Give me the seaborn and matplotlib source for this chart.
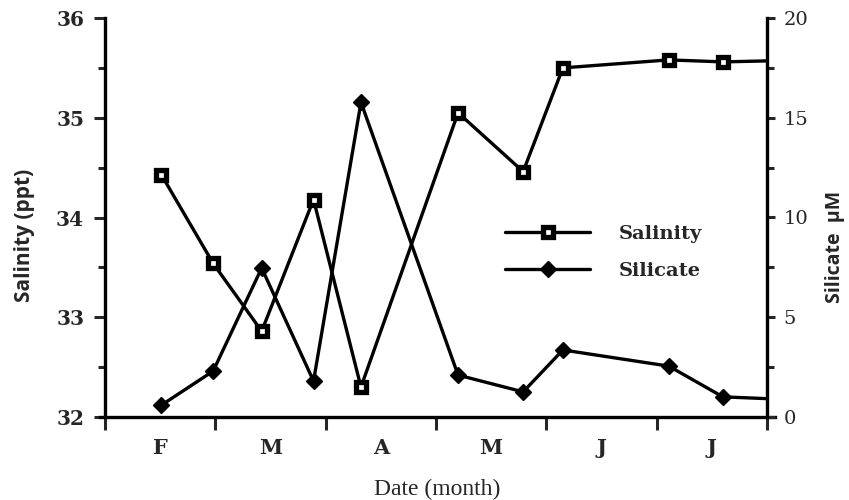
import matplotlib
matplotlib.use("Agg")
import matplotlib.pyplot as plt
import seaborn as sns
from matplotlib.lines import Line2D
from matplotlib.ticker import MultipleLocator, FixedLocator, NullFormatter, FixedFormatter

# ---- data -------------------------------------------------------------
month_labels = ["F", "M", "A", "M", "J", "J"]
# sampling dates, expressed in months elapsed since 1 February
sample_month = [0.51, 0.98, 1.42, 1.89, 2.32, 3.20, 3.79, 4.15, 5.11, 5.60, 6.00]
salinity = [34.43, 33.54, 32.86, 34.18, 32.30, 35.05, 34.46, 35.50, 35.58, 35.56, 35.57]
silicate = [0.59, 2.30, 7.47, 1.80, 15.78, 2.10, 1.26, 3.36, 2.55, 1.01, 0.92]
n_measured = 10  # the last entry only carries the line on to the axis edge

sns.set_style("ticks")
plt.rcParams["font.family"] = ["DejaVu Serif"]

fig = plt.figure(figsize=(8.49, 5.0), dpi=100)
ax = fig.add_axes([0.1172, 0.166, 0.7953, 0.798])
ax2 = ax.twinx()

lw = 2.4
sq = dict(marker="s", markersize=6.5, markerfacecolor="white",
          markeredgecolor="black", markeredgewidth=3.8)
dm = dict(marker="D", markersize=8.5, markerfacecolor="black",
          markeredgecolor="black", markeredgewidth=1)

sns.lineplot(x=sample_month, y=salinity, ax=ax, sort=False, color="black",
             linewidth=lw, markevery=list(range(n_measured)), legend=False,
             zorder=3, **sq)
sns.lineplot(x=sample_month, y=silicate, ax=ax2, sort=False, color="black",
             linewidth=lw, markevery=list(range(n_measured)), legend=False,
             zorder=3, **dm)

# ---- axes -------------------------------------------------------------
ax.set_xlim(-0.05, 6.07)
ax.set_ylim(32, 36)
ax2.set_ylim(0, 20)

ax.xaxis.set_major_locator(FixedLocator(range(7)))
ax.xaxis.set_major_formatter(NullFormatter())
ax.xaxis.set_minor_locator(FixedLocator([i + 0.5 for i in range(6)]))
ax.xaxis.set_minor_formatter(FixedFormatter(month_labels))
ax.yaxis.set_major_locator(MultipleLocator(1))
ax.yaxis.set_minor_locator(MultipleLocator(0.5))
ax2.yaxis.set_major_locator(MultipleLocator(5))
ax2.yaxis.set_minor_locator(MultipleLocator(2.5))

for a in (ax, ax2):
    a.spines["top"].set_visible(False)
    for s in a.spines.values():
        s.set_linewidth(2.4)
        s.set_color("black")
ax.spines["right"].set_visible(False)
ax2.spines["left"].set_visible(False)
ax2.spines["bottom"].set_visible(False)
ax.spines["left"].set_position(("data", 0))
ax2.spines["right"].set_position(("data", 6))

ax.tick_params(axis="x", which="major", direction="out", length=9, width=2.2)
ax.tick_params(axis="x", which="minor", length=0, pad=15, labelsize=15)
ax.tick_params(axis="y", which="major", direction="out", length=8, width=2.2,
               labelsize=14.5, pad=7)
ax.tick_params(axis="y", which="minor", direction="out", length=5, width=2.2)
ax2.tick_params(axis="y", which="major", direction="out", length=6, width=2.2,
                labelsize=14, pad=6)
ax2.tick_params(axis="y", which="minor", direction="out", length=5, width=2.2)

for t in ax.get_yticklabels() + ax.xaxis.get_minorticklabels():
    t.set_fontweight("bold")

ax.set_xlabel("Date (month)", fontsize=17, family=["Liberation Serif"])
ax.xaxis.set_label_coords(0.5, -0.155)
ax.set_ylabel("Salinity (ppt)", fontsize=15, fontweight="bold",
              family=["Open Sans", "DejaVu Sans"])
ax.yaxis.set_label_coords(-0.095, 0.456)
ax2.set_ylabel("Silicate  μM", fontsize=14, fontweight="bold",
               family=["Open Sans", "DejaVu Sans"])
ax2.yaxis.set_label_coords(1.075, 0.425)

# ---- legend -----------------------------------------------------------
handles = [
    Line2D([], [], color="black", linewidth=lw, **sq),
    Line2D([], [], color="black", linewidth=lw, **dm),
]
leg = ax2.legend(handles, ["Salinity", "Silicate"], loc="upper left",
                 bbox_to_anchor=(0.601, 0.482), frameon=False, handlelength=4.38,
                 handletextpad=1.44, labelspacing=1.0, borderpad=0,
                 borderaxespad=0, prop={"size": 14, "weight": "bold"})

fig.savefig("out.png", dpi=100)
